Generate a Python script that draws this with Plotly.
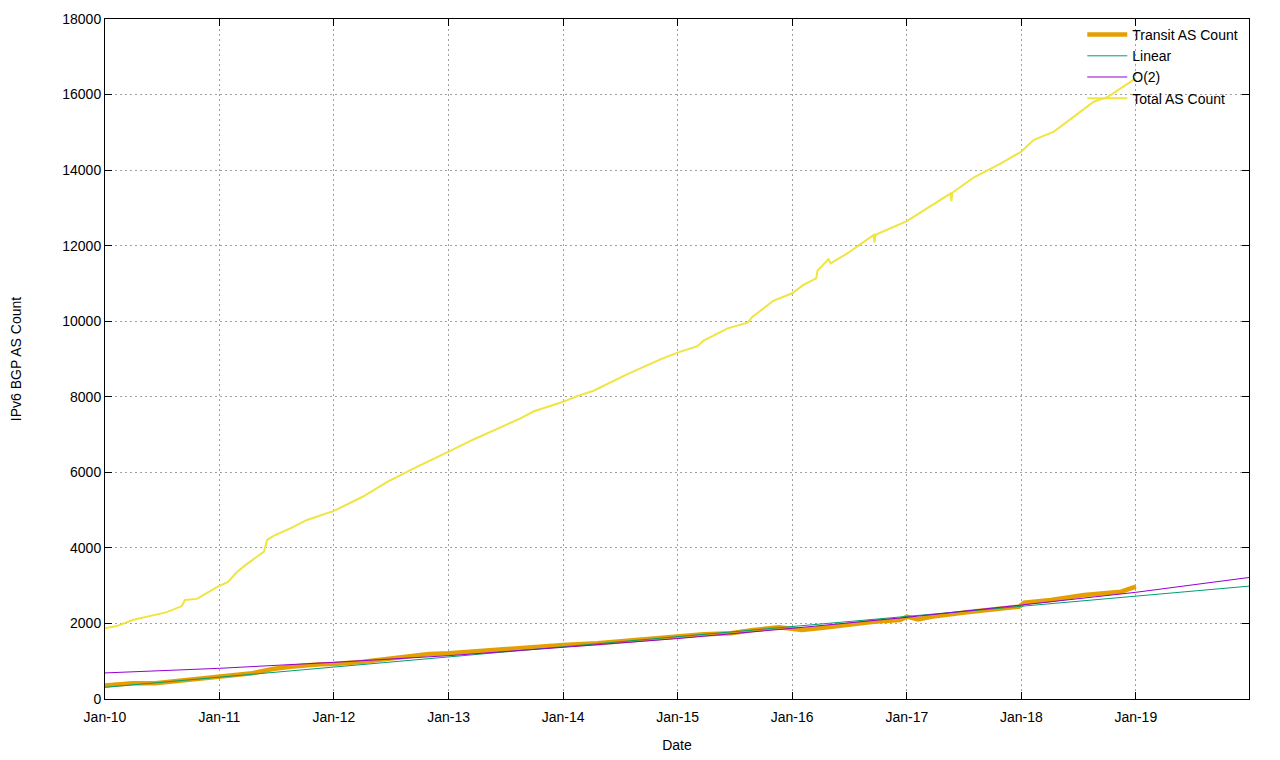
import plotly.graph_objects as go

# ---- data ----
total_dates = ["2010-01-01", "2010-02-08", "2010-03-30", "2010-05-24", "2010-07-17", "2010-09-03",
               "2010-09-13", "2010-10-21", "2010-12-24", "2011-01-28", "2011-02-26", "2011-03-29",
               "2011-05-10", "2011-05-23", "2011-06-02", "2011-06-21", "2011-08-23", "2011-10-07",
               "2012-01-01", "2012-04-03", "2012-06-19", "2012-07-30", "2012-09-23", "2013-01-01",
               "2013-03-21", "2013-06-15", "2013-08-18", "2013-09-28", "2014-01-01", "2014-02-19",
               "2014-04-08", "2014-07-25", "2014-11-07", "2015-01-01", "2015-03-05", "2015-03-25",
               "2015-06-09", "2015-08-12", "2015-08-28", "2015-11-02", "2016-01-01", "2016-02-06",
               "2016-03-18", "2016-03-22", "2016-04-26", "2016-05-03", "2016-06-26", "2016-08-03",
               "2016-09-17", "2016-09-20", "2016-09-23", "2017-01-01", "2017-04-19", "2017-05-20",
               "2017-05-23", "2017-05-26", "2017-08-03", "2017-10-28", "2018-01-01", "2018-02-10",
               "2018-04-15", "2018-06-18", "2018-08-20", "2018-10-04", "2018-12-07", "2019-01-01"]
total_count = [1870, 1930, 2090, 2200, 2300, 2460,
               2620, 2650, 2960, 3100, 3360, 3570,
               3810, 3900, 4210, 4310, 4550, 4740,
               4980, 5360, 5750, 5930, 6150, 6550,
               6870, 7190, 7430, 7610, 7870, 8030,
               8160, 8600, 8990, 9170, 9340, 9485,
               9810, 9960, 10120, 10540, 10740, 10960,
               11135, 11340, 11640, 11530, 11800, 12020,
               12280, 12080, 12290, 12650, 13210, 13380,
               13180, 13400, 13810, 14180, 14490, 14800,
               15020, 15415, 15810, 15940, 16300, 16430]

transit_dates = ["2010-01-01", "2010-03-30", "2010-06-10", "2010-09-10", "2010-11-01", "2010-12-30",
                 "2011-04-15", "2011-06-20", "2011-08-15", "2011-11-20", "2012-01-01", "2012-04-03",
                 "2012-08-15", "2012-10-30", "2013-01-01", "2013-03-10", "2013-06-05", "2013-09-20",
                 "2014-01-01", "2014-04-20", "2014-07-20", "2014-10-20", "2015-01-01", "2015-03-25",
                 "2015-06-20", "2015-08-30", "2015-11-20", "2016-02-01", "2016-04-10", "2016-06-26",
                 "2016-09-17", "2016-12-10", "2017-01-01", "2017-02-05", "2017-03-20", "2017-07-10",
                 "2017-11-01", "2017-12-25", "2018-01-10", "2018-04-05", "2018-07-20", "2018-09-20",
                 "2018-11-15", "2019-01-01"]
transit_count = [360, 415, 420, 503, 530, 574,
                 680, 794, 855, 918, 925, 988,
                 1110, 1191, 1209, 1252, 1297, 1368,
                 1429, 1474, 1545, 1606, 1668, 1712,
                 1738, 1826, 1897, 1826, 1888, 1959,
                 2047, 2091, 2180, 2109, 2179, 2294,
                 2400, 2443, 2549, 2620, 2753, 2814,
                 2841, 2973]

fit_dates = ["2010-01-01", "2011-01-01", "2012-01-01", "2013-01-01", "2014-01-01", "2015-01-01",
             "2016-01-01", "2017-01-01", "2018-01-01", "2019-01-01", "2020-01-01"]
linear_fit = [310, 578, 846, 1114, 1382, 1650, 1918, 2186, 2454, 2722, 2990]
quad_fit = [690, 812, 971, 1147, 1368, 1600, 1871, 2162, 2488, 2824, 3221]

y_ticks = [0, 2000, 4000, 6000, 8000, 10000, 12000, 14000, 16000, 18000]

FONT = "Liberation Sans, Arial, sans-serif"

fig = go.Figure()
fig.add_trace(go.Scatter(x=transit_dates, y=transit_count, mode="lines", name="Transit AS Count",
                         line=dict(color="#e69f00", width=4.5)))
fig.add_trace(go.Scatter(x=fit_dates, y=linear_fit, mode="lines", name="Linear",
                         line=dict(color="#009e73", width=1)))
fig.add_trace(go.Scatter(x=fit_dates, y=quad_fit, mode="lines", name="O(2)",
                         line=dict(color="#9400d3", width=1)))
fig.add_trace(go.Scatter(x=total_dates, y=total_count, mode="lines", name="Total AS Count",
                         line=dict(color="#f0e442", width=2)))

fig.update_layout(
    width=1280, height=760,
    margin=dict(l=97, r=39, t=11, b=69, autoexpand=False),
    paper_bgcolor="white", plot_bgcolor="white",
    font=dict(family=FONT, size=14, color="black"),
    showlegend=True,
    legend=dict(x=0.995, y=1.0, xanchor="right", yanchor="top",
                bgcolor="rgba(0,0,0,0)", font=dict(size=14),
                tracegroupgap=0, itemwidth=40),
)
fig.update_xaxes(
    type="date", range=["2010-01-01", "2019-12-28"],
    dtick="M12", tick0="2010-01-01", tickformat="%b-%y",
    ticks="inside", ticklen=7, tickcolor="black", ticklabelstandoff=5,
    showline=True, linecolor="black", linewidth=1, mirror="ticks",
    showgrid=True, gridcolor="#a0a0a0", griddash="2px,3px", gridwidth=1,
    zeroline=False, automargin=False,
    title=dict(text="Date", font=dict(size=14), standoff=16),
)
fig.update_yaxes(
    range=[0, 18000], tickvals=y_ticks, tickformat="d",
    ticks="inside", ticklen=7, tickcolor="black",
    showline=True, linecolor="black", linewidth=1, mirror="ticks",
    showgrid=True, gridcolor="#a0a0a0", griddash="2px,3px", gridwidth=1,
    zeroline=False, automargin=False,
    title=dict(text="IPv6 BGP AS Count", font=dict(size=14), standoff=40),
)

fig.write_html("out.html")
